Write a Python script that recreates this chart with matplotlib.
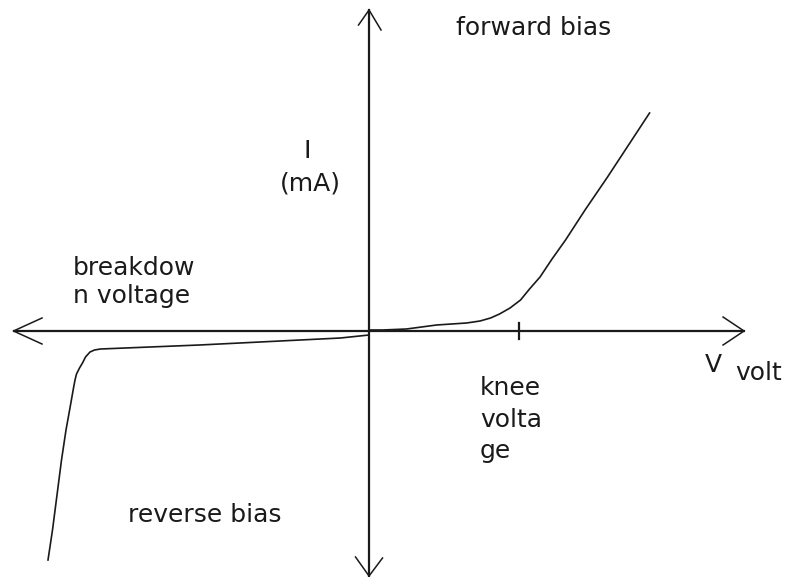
import matplotlib.pyplot as plt

# diode I-V characteristic (arbitrary units, knee at V = 1)
forward_v = [0.0, 0.09, 0.25, 0.45, 0.65, 0.74, 0.81, 0.87, 0.94, 1.01, 1.07, 1.14,
             1.22, 1.31, 1.44, 1.59, 1.73, 1.87]
forward_i = [0.01, 0.01, 0.02, 0.06, 0.08, 0.10, 0.13, 0.17, 0.23, 0.31, 0.42, 0.54,
             0.72, 0.91, 1.21, 1.54, 1.86, 2.18]

reverse_v = [0.0, -0.19, -1.13, -1.79, -1.83, -1.86, -1.89, -1.91, -1.93, -1.95, -1.96,
             -1.97, -1.99, -2.02, -2.05, -2.08, -2.11, -2.14]
reverse_i = [-0.04, -0.07, -0.14, -0.18, -0.19, -0.21, -0.26, -0.32, -0.37, -0.43, -0.49,
             -0.57, -0.74, -0.99, -1.29, -1.64, -1.99, -2.29]

knee_v = 1.0

# axis extents
x_min, x_max = -2.37, 2.50
y_min, y_max = -2.45, 3.21

ink = '#1a1a1a'
fs = 18

fig = plt.figure(figsize=(7.85, 5.77), dpi=100)
ax = fig.add_axes([0, 0, 1, 1])
ax.set_xlim(-2.46, 2.773)
ax.set_ylim(-2.46, 3.31)
ax.axis('off')

# axes lines
ax.plot([x_min, x_max], [0, 0], color=ink, lw=1.6)
ax.plot([0, 0], [y_min, y_max], color=ink, lw=1.6)

# open arrowheads
ax.plot([x_min + 0.19, x_min, x_min + 0.19], [0.13, 0, -0.13], color=ink, lw=1.1)
ax.plot([x_max - 0.14, x_max, x_max - 0.14], [0.14, 0, -0.14], color=ink, lw=1.1)
ax.plot([-0.07, 0, 0.08], [y_max - 0.15, y_max, y_max - 0.2], color=ink, lw=1.1)
ax.plot([-0.09, 0, 0.09], [y_min + 0.19, y_min, y_min + 0.18], color=ink, lw=1.1)

# knee tick
ax.plot([knee_v, knee_v], [-0.08, 0.08], color=ink, lw=1.6)

# curves
ax.plot(forward_v, forward_i, color=ink, lw=1.2, solid_joinstyle='round')
ax.plot(reverse_v, reverse_i, color=ink, lw=1.2, solid_joinstyle='round')

# labels
ax.text(0.58, 2.96, 'forward bias', fontsize=fs, color=ink)
ax.text(-0.44, 1.73, 'I', fontsize=fs, color=ink)
ax.text(-0.593, 1.41, '(mA)', fontsize=fs, color=ink)
ax.text(-1.973, 0.56, 'breakdow', fontsize=fs, color=ink)
ax.text(-1.973, 0.28, 'n voltage', fontsize=fs, color=ink)
ax.text(0.74, -0.64, 'knee', fontsize=fs, color=ink)
ax.text(0.74, -0.96, 'volta', fontsize=fs, color=ink)
ax.text(0.74, -1.27, 'ge', fontsize=fs, color=ink)
ax.text(2.24, -0.41, 'V', fontsize=fs, color=ink)
ax.text(2.44, -0.49, 'volt', fontsize=fs, color=ink)
ax.text(-1.607, -1.91, 'reverse bias', fontsize=fs, color=ink)

fig.savefig('out.png', dpi=100)
